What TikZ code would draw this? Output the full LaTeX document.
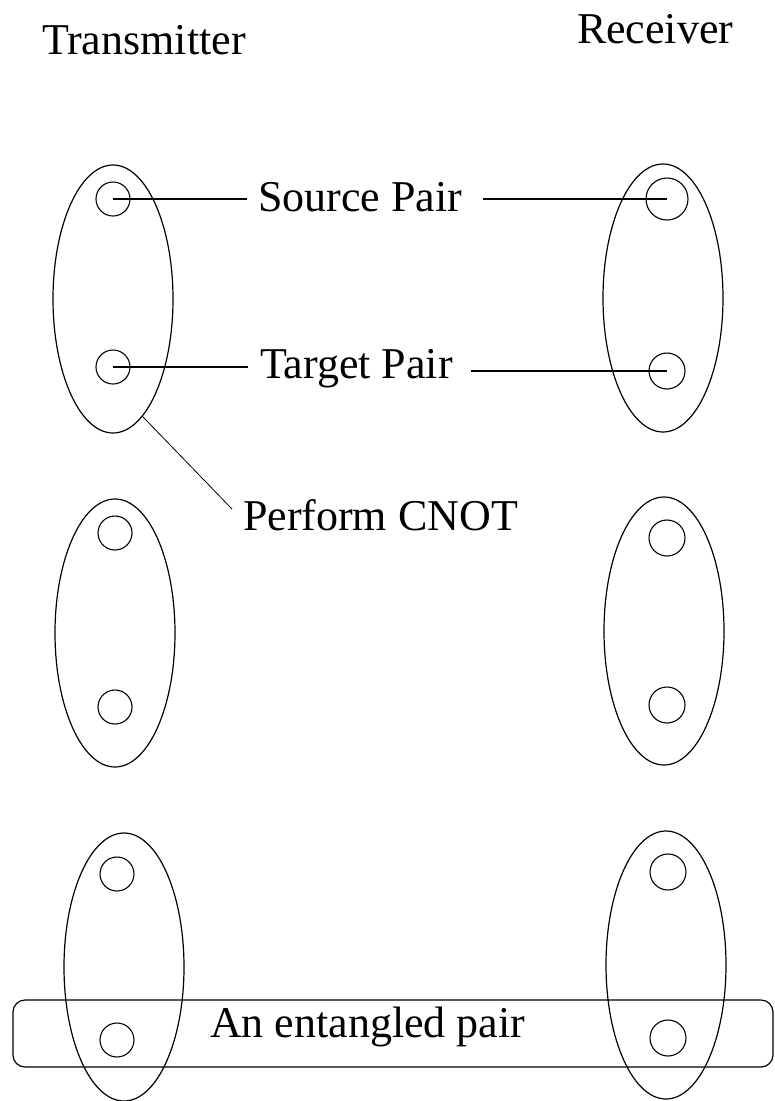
\documentclass[tikz,border=0pt]{standalone}
\usepackage{fontspec}
\setmainfont{Liberation Serif}
\usetikzlibrary{shapes.geometric}
\begin{document}
\begin{tikzpicture}[x=1pt,y=-1pt,
  every node/.style={font=\fontsize{44}{50}\selectfont},
  group/.style={draw, ellipse, line width=1.2pt, minimum width=120pt, minimum height=268pt, inner sep=0pt, outer sep=0pt},
  qubit/.style={draw, circle, line width=1.1pt, minimum size=34pt, inner sep=0pt, outer sep=0pt},
  bigqubit/.style={qubit, minimum size=42pt},
  midqubit/.style={qubit, minimum size=36pt},
  txt/.style={anchor=base west, inner sep=0pt, outer sep=0pt},
  wire/.style={line width=1.1pt},
  thinwire/.style={line width=0.8pt},
  pairbox/.style={draw, rectangle, rounded corners=12pt, line width=1.2pt, minimum width=760pt, minimum height=67pt, inner sep=0pt, outer sep=0pt}
]
\useasboundingbox (0,0) rectangle (775,1101);

% headings
\node[txt] (tx) at (42,54) {Transmitter};
\node[txt] (rx) at (577,43) {Receiver};

% groups (ellipses)
\node[group] (tE1) at (113,299) {};
\node[group] (rE1) at (663,298) {};
\node[group] (tE2) at (115,633) {};
\node[group] (rE2) at (664,631) {};
\node[group] (tE3) at (124,967) {};
\node[group] (rE3) at (666,965) {};

% qubits
\node[qubit] (t1a) at (113,199) {};
\node[qubit] (t1b) at (113,367) {};
\node[bigqubit] (r1a) at (667,199) {};
\node[midqubit] (r1b) at (667,371) {};
\node[qubit] (t2a) at (115,533) {};
\node[qubit] (t2b) at (115,707) {};
\node[midqubit] (r2a) at (667,538) {};
\node[midqubit] (r2b) at (667,705) {};
\node[qubit] (t3a) at (117,874) {};
\node[qubit] (t3b) at (117,1040) {};
\node[midqubit] (r3a) at (668,872) {};
\node[midqubit] (r3b) at (668,1038) {};

% labels
\node[txt] (src) at (258,211) {Source Pair};
\node[txt] (tgt) at (260,378) {Target Pair};
\node[txt] (cnot) at (243,530) {Perform CNOT};

% entangled pair box
\node[pairbox] (box) at (393,1033.5) {};
\node[txt] (ent) at (210,1037) {An entangled pair};

% connectors
\draw[wire, shorten >=11pt] (t1a.center) -- (t1a.center -| src.west);
\draw[wire, shorten <=21pt] (src.east |- r1a.center) -- (r1a.center);
\draw[wire, shorten >=12pt] (t1b.center) -- (t1b.center -| tgt.west);
\draw[wire, shorten <=18pt] (tgt.east |- r1b.center) -- (r1b.center);
\coordinate (cnotEnd) at ([shift={(-11,-21)}]cnot.base west);
\draw[thinwire] (tE1.-76.6) -- (cnotEnd);
\end{tikzpicture}
\end{document}
